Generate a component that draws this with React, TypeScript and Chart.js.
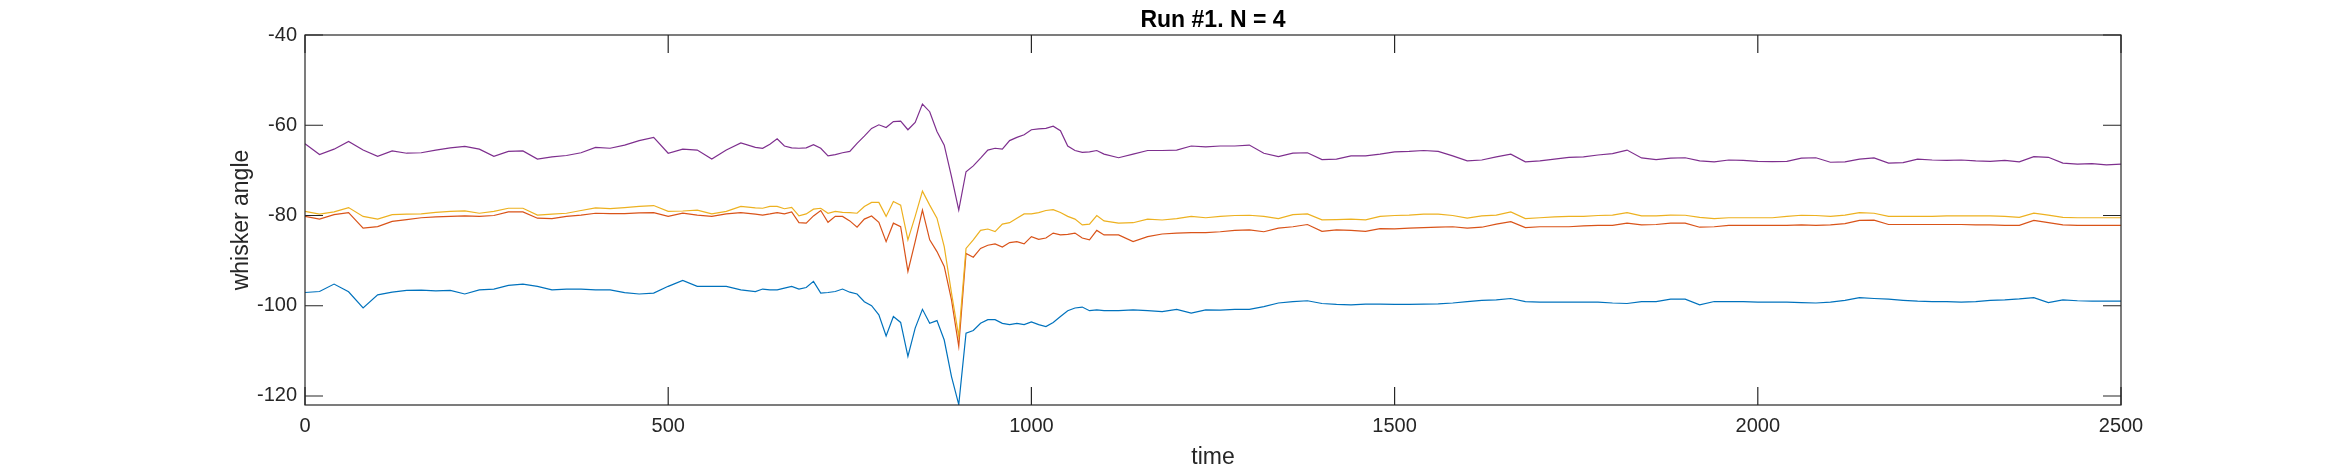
import { useEffect, useRef } from "react"
import { Chart, registerables } from "chart.js"

Chart.register(...registerables)

// sample times (finer around the event near t = 900)
const times = [
  0, 20, 40, 60, 80, 100, 120, 140, 160, 180, 200, 220, 240, 260, 280, 300,
  320, 340, 360, 380, 400, 420, 440, 460, 480, 500, 520, 540, 560, 580, 600,
  620, 630, 640, 650, 660, 670, 680, 690, 700, 710, 720, 730, 740, 750, 760,
  770, 780, 790, 800, 810, 820, 830, 840, 850, 860, 870, 880, 890, 900, 910,
  920, 930, 940, 950, 960, 970, 980, 990, 1000, 1010, 1020, 1030, 1040, 1050,
  1060, 1070, 1080, 1090, 1100,
  1120, 1140, 1160, 1180, 1200, 1220, 1240, 1260, 1280, 1300, 1320, 1340, 1360,
  1380, 1400, 1420, 1440, 1460, 1480, 1500, 1520, 1540, 1560, 1580, 1600, 1620,
  1640, 1660, 1680, 1700, 1720, 1740, 1760, 1780, 1800, 1820, 1840, 1860, 1880,
  1900, 1920, 1940, 1960, 1980, 2000, 2020, 2040, 2060, 2080, 2100, 2120, 2140,
  2160, 2180, 2200, 2220, 2240, 2260, 2280, 2300, 2320, 2340, 2360, 2380, 2400,
  2420, 2440, 2460, 2480, 2500,
]

// whisker 1 (blue)
const whisker1 = [
  -97.07, -96.85, -95.2, -96.9, -100.5, -97.6, -97.0, -96.6, -96.55, -96.7, -96.6,
  -97.4, -96.5, -96.3, -95.5, -95.2, -95.7, -96.5, -96.3, -96.3, -96.5, -96.5,
  -97.1, -97.4, -97.2, -95.7, -94.4, -95.7, -95.7, -95.7, -96.5,
  -96.85, -96.3, -96.5, -96.5, -96.1, -95.7, -96.3, -95.97, -94.6, -97.2,
  -97.07, -96.85, -96.3, -97.0, -97.4, -99.1, -100.0, -102.0, -106.7, -102.4,
  -103.7, -111.25, -104.97, -100.8, -103.9, -103.3, -107.6, -115.7, -121.9, -106.1,
  -105.5, -103.9, -103.1, -103.1, -103.9, -104.2, -103.9, -104.2, -103.6, -104.2,
  -104.6, -103.7, -102.4, -101.1, -100.5, -100.3, -101.1, -100.9, -101.1,
  -101.1, -100.9, -101.1, -101.3, -100.8, -101.65, -100.9, -100.98, -100.8, -100.8,
  -100.2, -99.4, -99.07, -98.9, -99.5, -99.7, -99.8, -99.65, -99.65, -99.7,
  -99.7, -99.65, -99.6, -99.4, -99.07, -98.8, -98.7, -98.4, -99.1, -99.2,
  -99.2, -99.2, -99.2, -99.2, -99.4, -99.5, -99.1, -99.1, -98.55, -98.55,
  -99.8, -99.07, -99.07, -99.1, -99.2, -99.2, -99.2, -99.3, -99.4, -99.2,
  -98.8, -98.2, -98.4, -98.55, -98.8, -99.0, -99.07, -99.1, -99.2, -99.07,
  -98.8, -98.7, -98.5, -98.2, -99.3, -98.7, -98.9, -99.0, -99.0, -99.0,
]

// whisker 2 (orange-red)
const whisker2 = [
  -80.2, -80.8, -79.8, -79.35, -82.8, -82.45, -81.3, -80.9, -80.5, -80.3, -80.2,
  -80.1, -80.2, -80.0, -79.2, -79.2, -80.6, -80.7, -80.2, -79.9, -79.5, -79.6,
  -79.6, -79.4, -79.35, -80.2, -79.5, -79.9, -80.2, -79.65, -79.35,
  -79.7, -79.9, -79.65, -79.35, -79.65, -79.2, -81.6, -81.7, -80.1, -78.9,
  -81.5, -80.2, -80.2, -81.2, -82.6, -80.8, -80.1, -81.5, -85.8, -81.7,
  -82.5, -92.4, -85.8, -78.8, -85.4, -88.0, -91.3, -98.7, -109.0, -88.4,
  -89.25, -87.3, -86.6, -86.3, -87.0, -86.0, -85.8, -86.3, -84.7, -85.3,
  -85.0, -83.9, -84.3, -84.2, -83.9, -85.0, -85.4, -83.3, -84.3,
  -84.3, -85.8, -84.7, -84.1, -83.9, -83.8, -83.8, -83.6, -83.3, -83.2,
  -83.6, -82.8, -82.5, -82.0, -83.5, -83.2, -83.3, -83.5, -82.9, -82.97,
  -82.8, -82.7, -82.6, -82.5, -82.8, -82.6, -81.9, -81.35, -82.7, -82.5,
  -82.5, -82.5, -82.3, -82.2, -82.2, -81.7, -82.1, -82.0, -81.7, -81.7,
  -82.6, -82.5, -82.2, -82.2, -82.2, -82.2, -82.2, -82.1, -82.2, -82.1,
  -81.8, -81.1, -81.05, -82.0, -82.0, -82.0, -82.0, -82.0, -82.0, -82.1,
  -82.1, -82.2, -82.2, -81.1, -81.6, -82.1, -82.2, -82.2, -82.2, -82.2,
]

// whisker 3 (yellow)
const whisker3 = [
  -79.1, -79.7, -79.2, -78.25, -80.2, -80.8, -79.8, -79.7, -79.65, -79.3, -79.1,
  -79.0, -79.5, -79.1, -78.4, -78.4, -79.9, -79.7, -79.5, -78.9, -78.3, -78.5,
  -78.25, -78.0, -77.8, -79.1, -79.0, -78.8, -79.65, -79.1, -78.0,
  -78.3, -78.4, -78.0, -78.0, -78.5, -78.2, -80.1, -79.65, -78.6, -78.4,
  -79.5, -79.1, -79.3, -79.35, -79.5, -78.0, -77.1, -77.1, -80.2, -76.9,
  -77.7, -85.4, -80.2, -74.6, -77.7, -80.6, -86.9, -97.2, -106.8, -87.3,
  -85.4, -83.3, -83.0, -83.56, -81.9, -81.6, -80.6, -79.65, -79.65, -79.35,
  -78.9, -78.7, -79.35, -80.2, -80.8, -82.1, -81.9, -80.0, -81.2,
  -81.7, -81.6, -80.8, -81.0, -80.7, -80.2, -80.5, -80.2, -80.0, -79.95,
  -80.2, -80.7, -79.8, -79.65, -80.98, -80.9, -80.8, -80.98, -80.2, -80.0,
  -79.9, -79.7, -79.7, -80.0, -80.6, -80.1, -79.9, -79.2, -80.7, -80.5,
  -80.3, -80.2, -80.2, -80.0, -79.9, -79.35, -80.1, -80.1, -79.9, -79.95,
  -80.4, -80.7, -80.5, -80.5, -80.5, -80.5, -80.2, -79.95, -80.0, -80.2,
  -79.9, -79.35, -79.5, -80.2, -80.2, -80.2, -80.2, -80.1, -80.1, -80.1,
  -80.1, -80.2, -80.4, -79.5, -79.9, -80.4, -80.5, -80.5, -80.5, -80.5,
]

// whisker 4 (purple)
const whisker4 = [
  -64.1, -66.5, -65.3, -63.6, -65.5, -66.9, -65.7, -66.2, -66.1, -65.5, -65.0,
  -64.7, -65.3, -66.9, -65.8, -65.7, -67.5, -67.0, -66.7, -66.1, -64.9, -65.1,
  -64.4, -63.4, -62.7, -66.2, -65.3, -65.5, -67.5, -65.5, -63.9,
  -64.9, -65.1, -64.2, -63.0, -64.6, -65.0, -65.1, -65.0, -64.3, -65.1,
  -66.8, -66.5, -66.1, -65.8, -64.0, -62.4, -60.7, -59.9, -60.5, -59.2,
  -59.1, -61.0, -59.4, -55.3, -57.0, -61.4, -64.4, -71.4, -78.8, -70.3,
  -69.0, -67.3, -65.5, -65.1, -65.3, -63.4, -62.7, -62.1, -61.0, -60.8,
  -60.7, -60.2, -61.2, -64.6, -65.6, -66.0, -65.9, -65.6, -66.4,
  -67.2, -66.4, -65.6, -65.6, -65.5, -64.6, -64.8, -64.6, -64.6, -64.4,
  -66.2, -66.95, -66.2, -66.1, -67.6, -67.5, -66.8, -66.8, -66.4, -65.9,
  -65.8, -65.6, -65.8, -66.8, -67.9, -67.7, -67.0, -66.4, -68.1, -67.9,
  -67.5, -67.1, -67.0, -66.6, -66.3, -65.5, -67.25, -67.6, -67.3, -67.2,
  -67.9, -68.1, -67.7, -67.8, -68.0, -68.06, -68.0, -67.3, -67.2, -68.2,
  -68.1, -67.5, -67.25, -68.4, -68.3, -67.5, -67.7, -67.8, -67.7, -67.9,
  -68.0, -67.8, -68.1, -66.95, -67.1, -68.4, -68.6, -68.5, -68.8, -68.6,
]

const xTicks = [0, 500, 1000, 1500, 2000, 2500]
const yTicks = [-120, -100, -80, -60, -40]

const FONT = "'Liberation Sans', Arial, Helvetica, sans-serif"
const AXIS_COLOR = "#262626"

export default function App() {
  const canvasRef = useRef<HTMLCanvasElement>(null)
  const chartRef = useRef<Chart | null>(null)

  useEffect(() => {
    document.body.style.margin = "0"
    document.body.style.background = "#fff"
    if (!canvasRef.current) return
    const ctx = canvasRef.current.getContext("2d")
    if (!ctx) return
    if (chartRef.current) chartRef.current.destroy()

    const toPoints = (vals: number[]) =>
      times.map((t, i) => ({ x: t, y: vals[i] }))

    const trace = (vals: number[], color: string, order: number) => ({
      data: toPoints(vals),
      borderColor: color,
      borderWidth: 1.2,
      pointRadius: 0,
      tension: 0,
      order,
    })

    // matlab-like box with inward ticks on all four sides + title/labels
    const matlabFrame = {
      id: "matlabFrame",
      afterDatasetsDraw(chart: any) {
        const { ctx, chartArea: a, scales } = chart
        const tl = 18
        ctx.save()
        ctx.strokeStyle = AXIS_COLOR
        ctx.lineWidth = 1.2
        ctx.strokeRect(a.left, a.top, a.right - a.left, a.bottom - a.top)
        ctx.beginPath()
        xTicks.forEach((v) => {
          const px = scales.x.getPixelForValue(v)
          ctx.moveTo(px, a.bottom)
          ctx.lineTo(px, a.bottom - tl)
          ctx.moveTo(px, a.top)
          ctx.lineTo(px, a.top + tl)
        })
        yTicks.forEach((v) => {
          const py = scales.y.getPixelForValue(v)
          ctx.moveTo(a.left, py)
          ctx.lineTo(a.left + tl, py)
          ctx.moveTo(a.right, py)
          ctx.lineTo(a.right - tl, py)
        })
        ctx.stroke()

        const cx = (a.left + a.right) / 2
        ctx.textAlign = "center"
        ctx.textBaseline = "alphabetic"
        ctx.fillStyle = "#000"
        ctx.font = `bold 23px ${FONT}`
        ctx.fillText("Run #1. N = 4", cx, a.top - 8)
        ctx.fillStyle = AXIS_COLOR
        ctx.font = `23px ${FONT}`
        ctx.fillText("time", cx, a.bottom + 59)
        ctx.translate(a.left - 57, (a.top + a.bottom) / 2)
        ctx.rotate(-Math.PI / 2)
        ctx.fillText("whisker angle", 0, 0)
        ctx.restore()
      },
    }

    chartRef.current = new Chart(ctx, {
      type: "line",
      data: {
        datasets: [
          trace(whisker1, "#0072BD", 3),
          trace(whisker2, "#D95319", 2),
          trace(whisker3, "#EDB120", 1),
          trace(whisker4, "#7E2F8E", 0),
        ],
      },
      options: {
        responsive: true,
        maintainAspectRatio: false,
        animation: false,
        events: [],
        layout: { padding: { left: 0, right: 223, top: 35, bottom: 0 } },
        plugins: {
          legend: { display: false },
          tooltip: { enabled: false },
          title: { display: false },
        },
        scales: {
          x: {
            type: "linear",
            min: 0,
            max: 2500,
            grid: { display: false, drawTicks: false },
            border: { display: false },
            afterBuildTicks: (s: any) => {
              s.ticks = xTicks.map((v) => ({ value: v }))
            },
            afterFit: (s: any) => {
              s.height = 64
            },
            ticks: {
              autoSkip: false,
              maxRotation: 0,
              padding: 9,
              color: AXIS_COLOR,
              font: { family: FONT, size: 20 },
              callback: (v: any) => String(v),
            },
          },
          y: {
            type: "linear",
            min: -122,
            max: -40,
            grid: { display: false, drawTicks: false },
            border: { display: false },
            afterBuildTicks: (s: any) => {
              s.ticks = yTicks.map((v) => ({ value: v }))
            },
            afterFit: (s: any) => {
              s.width = 305
            },
            ticks: {
              autoSkip: false,
              padding: 8,
              color: AXIS_COLOR,
              font: { family: FONT, size: 20 },
              callback: (v: any) => String(v),
            },
          },
        },
      },
      plugins: [matlabFrame],
    })

    return () => {
      if (chartRef.current) chartRef.current.destroy()
      chartRef.current = null
    }
  }, [])

  return (
    <div style={{ width: 2344, height: 469, position: "relative" }}>
      <canvas ref={canvasRef}></canvas>
    </div>
  )
}
